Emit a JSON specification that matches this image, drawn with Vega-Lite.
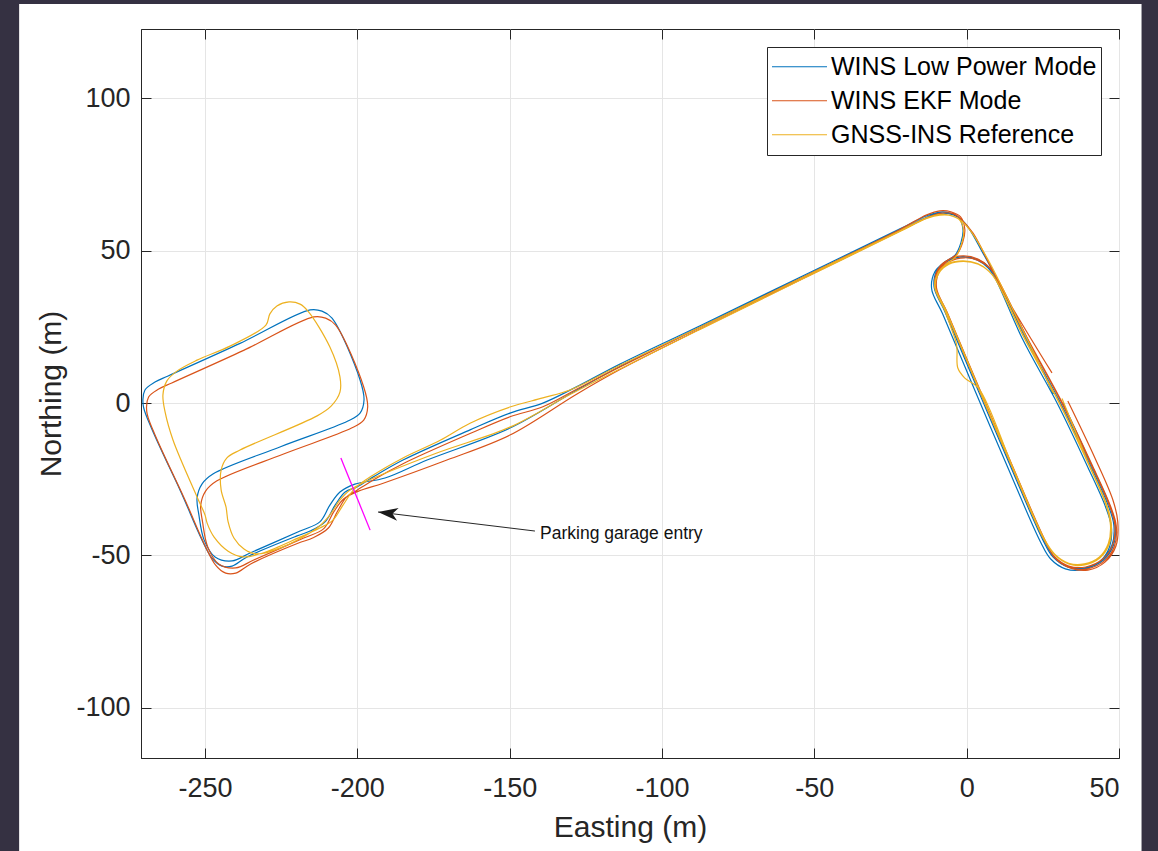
{
"$schema": "https://vega.github.io/schema/vega-lite/v6.json",
"width": 978, "height": 729,
"autosize": {"type": "none"},
"padding": {"left": 141, "top": 29, "right": 39, "bottom": 93},
"background": "white",
"config": {"view": {"stroke": "#262626", "strokeWidth": 1}, "font": "Liberation Sans"},
"datasets": {
"lp": [
{"i":1,"x":31.6,"y":0.0},{"i":2,"x":41.0,"y":-20.3},{"i":3,"x":46.9,"y":-33.5},{"i":4,"x":48.8,"y":-40.0},{"i":5,"x":48.2,"y":-46.6},{"i":6,"x":44.9,"y":-51.5},{"i":7,"x":39.3,"y":-54.1},{"i":8,"x":33.7,"y":-53.8},{"i":9,"x":28.8,"y":-50.5},{"i":10,"x":25.5,"y":-44.9},
{"i":11,"x":14.7,"y":-20.3},{"i":12,"x":3.9,"y":5.0},{"i":13,"x":-6.6,"y":29.9},{"i":14,"x":-10.2,"y":38.1},{"i":15,"x":-9.2,"y":43.7},{"i":16,"x":-6.0,"y":46.7},{"i":17,"x":-1.0,"y":48.0},{"i":18,"x":3.9,"y":47.0},{"i":19,"x":7.5,"y":44.4},{"i":20,"x":9.8,"y":41.1},
{"i":21,"x":19.1,"y":21.7},{"i":22,"x":30.6,"y":0.4},{"i":23,"x":40.5,"y":-20.3},{"i":24,"x":46.4,"y":-33.5},{"i":25,"x":48.3,"y":-40.0},{"i":26,"x":47.7,"y":-46.6},{"i":27,"x":44.4,"y":-51.5},{"i":28,"x":38.8,"y":-54.1},{"i":29,"x":33.2,"y":-53.8},{"i":30,"x":28.3,"y":-50.5},
{"i":31,"x":25.0,"y":-44.9},{"i":32,"x":14.2,"y":-20.3},{"i":33,"x":3.4,"y":5.0},{"i":34,"x":-7.1,"y":29.9},{"i":35,"x":-10.7,"y":38.1},{"i":36,"x":-9.7,"y":43.7},{"i":37,"x":-6.5,"y":46.7},{"i":38,"x":-1.5,"y":48.0},{"i":39,"x":3.4,"y":47.0},{"i":40,"x":7.0,"y":44.4},
{"i":41,"x":9.3,"y":41.1},{"i":42,"x":18.3,"y":21.1},{"i":43,"x":29.8,"y":-0.2},{"i":44,"x":39.7,"y":-20.9},{"i":45,"x":45.6,"y":-34.1},{"i":46,"x":47.5,"y":-40.6},{"i":47,"x":46.9,"y":-47.2},{"i":48,"x":43.6,"y":-52.1},{"i":49,"x":38.0,"y":-54.7},{"i":50,"x":32.4,"y":-54.4},
{"i":51,"x":27.5,"y":-51.1},{"i":52,"x":24.2,"y":-45.5},{"i":53,"x":13.4,"y":-20.9},{"i":54,"x":2.6,"y":4.4},{"i":55,"x":-7.9,"y":29.3},{"i":56,"x":-11.5,"y":37.5},{"i":57,"x":-10.4,"y":43.2},{"i":58,"x":-7.2,"y":46.3},{"i":59,"x":-3.8,"y":48.6},{"i":60,"x":-1.9,"y":52.6},
{"i":61,"x":-1.2,"y":56.8},{"i":62,"x":-2.5,"y":60.8},{"i":63,"x":-5.5,"y":62.4},{"i":64,"x":-8.8,"y":62.7},{"i":65,"x":-13.1,"y":61.5},{"i":66,"x":-21.9,"y":57.2},{"i":67,"x":-54.7,"y":41.3},{"i":68,"x":-87.5,"y":25.4},{"i":69,"x":-113.8,"y":12.8},{"i":70,"x":-127.9,"y":5.4},
{"i":71,"x":-139.1,"y":0.0},{"i":72,"x":-149.9,"y":-3.3},{"i":73,"x":-163.0,"y":-8.8},{"i":74,"x":-185.0,"y":-18.7},{"i":75,"x":-194.9,"y":-24.3},{"i":76,"x":-200.1,"y":-27.5},{"i":77,"x":-204.0,"y":-29.2},{"i":78,"x":-207.3,"y":-33.5},{"i":79,"x":-210.6,"y":-39.0},{"i":80,"x":-215.5,"y":-42.0},
{"i":81,"x":-219.8,"y":-43.6},{"i":82,"x":-236.2,"y":-50.5},{"i":83,"x":-241.1,"y":-53.5},{"i":84,"x":-244.4,"y":-53.5},{"i":85,"x":-247.7,"y":-50.9},{"i":86,"x":-258.2,"y":-28.5},{"i":87,"x":-268.0,"y":-7.2},{"i":88,"x":-270.3,"y":-0.6},{"i":89,"x":-269.7,"y":4.3},{"i":90,"x":-266.4,"y":6.9},
{"i":91,"x":-262.1,"y":8.9},{"i":92,"x":-238.5,"y":19.6},{"i":93,"x":-215.5,"y":30.6},{"i":94,"x":-211.6,"y":30.2},{"i":95,"x":-208.3,"y":27.9},{"i":96,"x":-199.1,"y":7.6},{"i":97,"x":-197.8,"y":1.0},{"i":98,"x":-199.1,"y":-3.3},{"i":99,"x":-203.1,"y":-5.9},{"i":100,"x":-225.4,"y":-14.4},
{"i":101,"x":-247.4,"y":-23.3},{"i":102,"x":-251.0,"y":-26.6},{"i":103,"x":-252.6,"y":-31.2},{"i":104,"x":-252.0,"y":-36.7},{"i":105,"x":-250.3,"y":-44.9},{"i":106,"x":-246.7,"y":-50.5},{"i":107,"x":-241.1,"y":-51.8},{"i":108,"x":-235.2,"y":-49.2},{"i":109,"x":-218.8,"y":-42.0},{"i":110,"x":-212.3,"y":-39.0},
{"i":111,"x":-209.0,"y":-33.5},{"i":112,"x":-205.7,"y":-29.2},{"i":113,"x":-200.8,"y":-26.6},{"i":114,"x":-190.9,"y":-24.6},{"i":115,"x":-177.1,"y":-18.7},{"i":116,"x":-149.9,"y":-8.2},{"i":117,"x":-127.9,"y":4.3},{"i":118,"x":-113.8,"y":12.0},{"i":119,"x":-87.5,"y":24.9},{"i":120,"x":-54.7,"y":40.8},
{"i":121,"x":-21.9,"y":56.7},{"i":122,"x":-13.1,"y":61.0},{"i":123,"x":-8.8,"y":62.3},{"i":124,"x":-4.3,"y":61.8},{"i":125,"x":-1.5,"y":60.0},{"i":126,"x":1.1,"y":56.8},{"i":127,"x":5.3,"y":49.3},{"i":128,"x":9.3,"y":42.1},{"i":129,"x":19.6,"y":21.7},{"i":130,"x":28.5,"y":3.0}
],
"ekf": [
{"i":1,"x":33.2,"y":0.7},{"i":2,"x":42.1,"y":-18.0},{"i":3,"x":48.0,"y":-31.8},{"i":4,"x":49.6,"y":-39.0},{"i":5,"x":49.0,"y":-46.9},{"i":6,"x":45.4,"y":-52.2},{"i":7,"x":39.8,"y":-54.8},{"i":8,"x":33.9,"y":-54.1},{"i":9,"x":29.0,"y":-50.9},{"i":10,"x":25.8,"y":-45.2},
{"i":11,"x":15.0,"y":-20.6},{"i":12,"x":4.2,"y":4.7},{"i":13,"x":-6.3,"y":29.6},{"i":14,"x":-9.9,"y":37.8},{"i":15,"x":-8.9,"y":43.4},{"i":16,"x":-5.7,"y":46.4},{"i":17,"x":-0.7,"y":47.7},{"i":18,"x":4.2,"y":46.7},{"i":19,"x":7.8,"y":44.1},{"i":20,"x":10.1,"y":40.8},
{"i":21,"x":19.9,"y":21.4},{"i":22,"x":31.4,"y":0.1},{"i":23,"x":41.3,"y":-20.6},{"i":24,"x":47.2,"y":-33.8},{"i":25,"x":49.1,"y":-40.3},{"i":26,"x":48.5,"y":-46.9},{"i":27,"x":45.2,"y":-51.8},{"i":28,"x":39.6,"y":-54.4},{"i":29,"x":34.0,"y":-54.1},{"i":30,"x":29.1,"y":-50.8},
{"i":31,"x":25.3,"y":-44.6},{"i":32,"x":14.5,"y":-20.0},{"i":33,"x":3.7,"y":5.3},{"i":34,"x":-6.8,"y":30.2},{"i":35,"x":-10.4,"y":38.4},{"i":36,"x":-9.4,"y":44.0},{"i":37,"x":-6.2,"y":47.0},{"i":38,"x":-1.2,"y":48.3},{"i":39,"x":3.7,"y":47.3},{"i":40,"x":7.3,"y":44.7},
{"i":41,"x":9.6,"y":41.4},{"i":42,"x":19.4,"y":22.0},{"i":43,"x":30.9,"y":0.7},{"i":44,"x":40.8,"y":-20.0},{"i":45,"x":46.7,"y":-33.2},{"i":46,"x":48.6,"y":-39.7},{"i":47,"x":48.0,"y":-46.3},{"i":48,"x":44.7,"y":-51.2},{"i":49,"x":39.1,"y":-53.8},{"i":50,"x":33.5,"y":-53.5},
{"i":51,"x":28.6,"y":-50.2},{"i":52,"x":25.5,"y":-44.9},{"i":53,"x":14.7,"y":-20.3},{"i":54,"x":3.9,"y":5.0},{"i":55,"x":-6.6,"y":29.9},{"i":56,"x":-10.2,"y":38.1},{"i":57,"x":-9.2,"y":43.7},{"i":58,"x":-6.2,"y":46.8},{"i":59,"x":-3.2,"y":48.9},{"i":60,"x":-1.3,"y":52.8},
{"i":61,"x":-0.6,"y":57.0},{"i":62,"x":-2.0,"y":61.1},{"i":63,"x":-5.2,"y":62.8},{"i":64,"x":-8.8,"y":63.1},{"i":65,"x":-13.1,"y":61.8},{"i":66,"x":-21.9,"y":57.0},{"i":67,"x":-54.7,"y":40.9},{"i":68,"x":-87.5,"y":24.9},{"i":69,"x":-113.8,"y":11.9},{"i":70,"x":-127.9,"y":4.6},
{"i":71,"x":-139.1,"y":-1.2},{"i":72,"x":-149.9,"y":-4.5},{"i":73,"x":-163.0,"y":-10.0},{"i":74,"x":-185.0,"y":-19.9},{"i":75,"x":-194.9,"y":-25.3},{"i":76,"x":-200.1,"y":-28.6},{"i":77,"x":-203.5,"y":-30.8},{"i":78,"x":-206.5,"y":-35.5},{"i":79,"x":-209.5,"y":-41.0},{"i":80,"x":-214.5,"y":-44.2},
{"i":81,"x":-219.5,"y":-46.0},{"i":82,"x":-235.0,"y":-52.8},{"i":83,"x":-239.9,"y":-55.8},{"i":84,"x":-243.2,"y":-55.8},{"i":85,"x":-246.5,"y":-53.2},{"i":86,"x":-257.0,"y":-30.8},{"i":87,"x":-266.8,"y":-9.5},{"i":88,"x":-269.1,"y":-2.9},{"i":89,"x":-268.5,"y":2.0},{"i":90,"x":-265.2,"y":4.6},
{"i":91,"x":-260.9,"y":6.6},{"i":92,"x":-237.3,"y":17.3},{"i":93,"x":-214.3,"y":28.3},{"i":94,"x":-210.4,"y":27.9},{"i":95,"x":-207.1,"y":25.6},{"i":96,"x":-197.9,"y":5.3},{"i":97,"x":-196.6,"y":-1.3},{"i":98,"x":-197.9,"y":-5.6},{"i":99,"x":-201.9,"y":-8.2},{"i":100,"x":-224.2,"y":-16.7},
{"i":101,"x":-246.2,"y":-25.6},{"i":102,"x":-249.8,"y":-28.9},{"i":103,"x":-251.4,"y":-33.5},{"i":104,"x":-250.8,"y":-39.0},{"i":105,"x":-249.1,"y":-47.2},{"i":106,"x":-245.5,"y":-52.8},{"i":107,"x":-239.9,"y":-54.1},{"i":108,"x":-234.0,"y":-51.5},{"i":109,"x":-217.6,"y":-44.3},{"i":110,"x":-211.1,"y":-41.3},
{"i":111,"x":-207.8,"y":-35.8},{"i":112,"x":-204.5,"y":-31.5},{"i":113,"x":-199.6,"y":-28.9},{"i":114,"x":-191.5,"y":-26.3},{"i":115,"x":-170.6,"y":-18.7},{"i":116,"x":-149.9,"y":-10.5},{"i":117,"x":-127.9,"y":3.0},{"i":118,"x":-113.8,"y":11.0},{"i":119,"x":-87.5,"y":24.3},{"i":120,"x":-54.7,"y":40.4},
{"i":121,"x":-21.9,"y":56.5},{"i":122,"x":-13.1,"y":60.8},{"i":123,"x":-8.8,"y":62.3},{"i":124,"x":-4.5,"y":62.2},{"i":125,"x":-1.8,"y":60.3},{"i":126,"x":2.1,"y":55.8},{"i":127,"x":7.6,"y":45.3},{"i":128,"x":12.6,"y":35.5},{"i":129,"x":28.0,"y":9.9}
],
"ref": [
{"i":1,"x":31.3,"y":1.5},{"i":2,"x":40.2,"y":-20.3},{"i":3,"x":45.8,"y":-33.3},{"i":4,"x":47.3,"y":-40.0},{"i":5,"x":46.6,"y":-46.0},{"i":6,"x":43.6,"y":-50.5},{"i":7,"x":38.6,"y":-52.8},{"i":8,"x":33.5,"y":-52.6},{"i":9,"x":28.9,"y":-49.6},{"i":10,"x":25.4,"y":-44.5},
{"i":11,"x":14.6,"y":-19.9},{"i":12,"x":3.8,"y":5.4},{"i":13,"x":-6.7,"y":30.3},{"i":14,"x":-10.3,"y":38.3},{"i":15,"x":-9.0,"y":42.8},{"i":16,"x":-5.8,"y":45.6},{"i":17,"x":-1.0,"y":46.5},{"i":18,"x":3.8,"y":45.6},{"i":19,"x":7.3,"y":43.3},{"i":20,"x":9.6,"y":40.5},
{"i":21,"x":18.9,"y":21.5},{"i":22,"x":30.4,"y":0.2},{"i":23,"x":40.3,"y":-20.5},{"i":24,"x":46.0,"y":-33.5},{"i":25,"x":47.5,"y":-40.2},{"i":26,"x":46.8,"y":-46.3},{"i":27,"x":43.8,"y":-50.8},{"i":28,"x":38.8,"y":-53.1},{"i":29,"x":33.7,"y":-52.9},{"i":30,"x":29.1,"y":-49.9},
{"i":31,"x":25.6,"y":-44.8},{"i":32,"x":14.8,"y":-20.2},{"i":33,"x":3.9,"y":4.9},{"i":34,"x":-0.6,"y":8.2},{"i":35,"x":-2.9,"y":11.5},{"i":36,"x":-3.3,"y":19.1},{"i":37,"x":-5.4,"y":25.5},{"i":38,"x":-7.0,"y":30.0},{"i":39,"x":-10.5,"y":38.2},{"i":40,"x":-9.2,"y":42.9},
{"i":41,"x":-6.0,"y":45.8},{"i":42,"x":-1.2,"y":46.7},{"i":43,"x":3.6,"y":45.8},{"i":44,"x":7.1,"y":43.5},{"i":45,"x":9.4,"y":40.7},{"i":46,"x":18.7,"y":21.7},{"i":47,"x":30.2,"y":0.4},{"i":48,"x":40.1,"y":-20.3},{"i":49,"x":45.7,"y":-33.3},{"i":50,"x":47.2,"y":-40.0},
{"i":51,"x":46.5,"y":-46.1},{"i":52,"x":43.5,"y":-50.6},{"i":53,"x":38.5,"y":-52.9},{"i":54,"x":33.4,"y":-52.7},{"i":55,"x":28.8,"y":-49.7},{"i":56,"x":25.3,"y":-44.6},{"i":57,"x":14.5,"y":-20.0},{"i":58,"x":3.7,"y":5.3},{"i":59,"x":-6.8,"y":30.2},{"i":60,"x":-10.4,"y":38.3},
{"i":61,"x":-9.3,"y":43.0},{"i":62,"x":-6.4,"y":45.9},{"i":63,"x":-3.6,"y":48.0},{"i":64,"x":-1.7,"y":52.2},{"i":65,"x":-1.0,"y":56.5},{"i":66,"x":-2.4,"y":60.2},{"i":67,"x":-5.5,"y":61.6},{"i":68,"x":-8.8,"y":61.9},{"i":69,"x":-13.1,"y":60.8},{"i":70,"x":-21.9,"y":56.6},
{"i":71,"x":-54.7,"y":40.8},{"i":72,"x":-87.5,"y":24.9},{"i":73,"x":-113.8,"y":12.4},{"i":74,"x":-130.2,"y":4.3},{"i":75,"x":-139.1,"y":1.7},{"i":76,"x":-149.9,"y":-1.3},{"i":77,"x":-163.0,"y":-6.6},{"i":78,"x":-172.8,"y":-12.2},{"i":79,"x":-185.0,"y":-18.0},{"i":80,"x":-194.9,"y":-23.7},
{"i":81,"x":-200.8,"y":-28.0},{"i":82,"x":-204.7,"y":-33.5},{"i":83,"x":-208.0,"y":-38.4},{"i":84,"x":-212.3,"y":-41.0},{"i":85,"x":-218.8,"y":-44.0},{"i":86,"x":-231.0,"y":-49.2},{"i":87,"x":-237.5,"y":-50.5},{"i":88,"x":-242.4,"y":-48.6},{"i":89,"x":-247.0,"y":-44.0},{"i":90,"x":-249.3,"y":-39.4},
{"i":91,"x":-250.0,"y":-36.7},{"i":92,"x":-252.6,"y":-30.8},{"i":93,"x":-260.5,"y":-12.1},{"i":94,"x":-263.1,"y":-2.9},{"i":95,"x":-263.8,"y":2.7},{"i":96,"x":-262.5,"y":7.3},{"i":97,"x":-259.2,"y":10.5},{"i":98,"x":-252.6,"y":14.1},{"i":99,"x":-241.8,"y":18.7},{"i":100,"x":-230.0,"y":25.6},
{"i":101,"x":-228.7,"y":29.3},{"i":102,"x":-226.4,"y":31.9},{"i":103,"x":-222.4,"y":33.2},{"i":104,"x":-218.8,"y":32.5},{"i":105,"x":-216.2,"y":30.2},{"i":106,"x":-209.0,"y":18.4},{"i":107,"x":-205.7,"y":8.6},{"i":108,"x":-205.7,"y":3.6},{"i":109,"x":-208.6,"y":-1.0},{"i":110,"x":-213.2,"y":-4.2},
{"i":111,"x":-238.5,"y":-15.4},{"i":112,"x":-242.8,"y":-18.0},{"i":113,"x":-244.7,"y":-22.0},{"i":114,"x":-244.7,"y":-28.5},{"i":115,"x":-243.1,"y":-34.1},{"i":116,"x":-242.4,"y":-39.0},{"i":117,"x":-240.5,"y":-44.3},{"i":118,"x":-237.2,"y":-47.9},{"i":119,"x":-233.3,"y":-49.5},{"i":120,"x":-225.4,"y":-47.6},
{"i":121,"x":-213.2,"y":-41.0},{"i":122,"x":-209.0,"y":-36.7},{"i":123,"x":-205.7,"y":-31.8},{"i":124,"x":-202.4,"y":-28.5},{"i":125,"x":-197.5,"y":-25.9},{"i":126,"x":-173.9,"y":-16.4},{"i":127,"x":-149.9,"y":-7.9},{"i":128,"x":-130.2,"y":2.8},{"i":129,"x":-113.8,"y":11.2},{"i":130,"x":-87.5,"y":24.2},
{"i":131,"x":-54.7,"y":40.3},{"i":132,"x":-21.9,"y":56.3},{"i":133,"x":-13.1,"y":60.6},{"i":134,"x":-8.8,"y":61.7},{"i":135,"x":-4.5,"y":61.4},{"i":136,"x":-1.5,"y":59.6},{"i":137,"x":1.8,"y":55.8},{"i":138,"x":7.6,"y":46.0},{"i":139,"x":10.5,"y":40.3},{"i":140,"x":19.5,"y":21.8},
{"i":141,"x":28.3,"y":3.5}
],
"entry": [{"x":-205.4,"y":-18.0,"x2":-195.8,"y2":-41.7}],
"arrow": [{"x":-141.7,"y":-42.0,"x2":-193.2,"y2":-35.75}],
"label": [{"x":-140.0,"y":-44.6,"t":"Parking garage entry"}]
},
"layer": [
{"data": {"name": "lp"},
 "mark": {"type": "line", "interpolate": "catmull-rom", "strokeWidth": 1.2},
 "encoding": {
  "x": {"field": "x", "type": "quantitative", "scale": {"domain": [-271, 50], "nice": false, "zero": false},
   "axis": {"orient": "bottom", "values": [-250, -200, -150, -100, -50, 0, 50], "title": "Easting (m)", "labelExpr": "'' + datum.value",
    "grid": true, "gridColor": "#e5e5e5", "gridWidth": 1, "tickSize": -10, "tickColor": "#262626", "tickWidth": 1,
    "domainColor": "#262626", "labelFont": "Liberation Sans", "labelFontSize": 27, "labelColor": "#262626", "labelPadding": 27,
    "titleFont": "Liberation Sans", "titleFontSize": 30, "titleFontWeight": "normal", "titleColor": "#262626", "titlePadding": 11}},
  "y": {"field": "y", "type": "quantitative", "scale": {"domain": [-116.5, 122.8], "nice": false, "zero": false},
   "axis": {"orient": "left", "values": [-100, -50, 0, 50, 100], "title": "Northing (m)", "labelExpr": "'' + datum.value",
    "grid": true, "gridColor": "#e5e5e5", "gridWidth": 1, "tickSize": -10, "tickColor": "#262626", "tickWidth": 1,
    "domainColor": "#262626", "labelFont": "Liberation Sans", "labelFontSize": 27, "labelColor": "#262626", "labelPadding": 21,
    "titleFont": "Liberation Sans", "titleFontSize": 30, "titleFontWeight": "normal", "titleColor": "#262626", "titlePadding": 9}},
  "color": {"datum": "WINS Low Power Mode", "type": "nominal",
   "scale": {"domain": ["WINS Low Power Mode", "WINS EKF Mode", "GNSS-INS Reference"], "range": ["#0072BD", "#D95319", "#EDB120"]},
   "legend": {"orient": "none", "legendX": 626, "legendY": 18, "title": null, "symbolType": "stroke", "symbolSize": 3025, "symbolStrokeWidth": 1.2,
    "labelFont": "Liberation Sans", "labelFontSize": 25, "labelColor": "#000000", "labelLimit": 500, "labelOffset": 3,
    "strokeColor": "#262626", "fillColor": "white", "padding": 4, "rowPadding": 2, "clipHeight": 31.5}},
  "order": {"field": "i", "type": "quantitative"}
 }},
{"data": {"name": "ekf"},
 "mark": {"type": "line", "interpolate": "catmull-rom", "strokeWidth": 1.2},
 "encoding": {
  "x": {"field": "x", "type": "quantitative", "scale": {"domain": [-271, 50], "nice": false, "zero": false}, "axis": null},
  "y": {"field": "y", "type": "quantitative", "scale": {"domain": [-116.5, 122.8], "nice": false, "zero": false}, "axis": null},
  "color": {"datum": "WINS EKF Mode", "type": "nominal",
   "scale": {"domain": ["WINS Low Power Mode", "WINS EKF Mode", "GNSS-INS Reference"], "range": ["#0072BD", "#D95319", "#EDB120"]},
   "legend": {"orient": "none", "legendX": 626, "legendY": 18, "title": null, "symbolType": "stroke", "symbolSize": 3025, "symbolStrokeWidth": 1.2,
    "labelFont": "Liberation Sans", "labelFontSize": 25, "labelColor": "#000000", "labelLimit": 500, "labelOffset": 3,
    "strokeColor": "#262626", "fillColor": "white", "padding": 4, "rowPadding": 2, "clipHeight": 31.5}},
  "order": {"field": "i", "type": "quantitative"}
 }},
{"data": {"name": "ref"},
 "mark": {"type": "line", "interpolate": "catmull-rom", "strokeWidth": 1.2},
 "encoding": {
  "x": {"field": "x", "type": "quantitative", "scale": {"domain": [-271, 50], "nice": false, "zero": false}, "axis": null},
  "y": {"field": "y", "type": "quantitative", "scale": {"domain": [-116.5, 122.8], "nice": false, "zero": false}, "axis": null},
  "color": {"datum": "GNSS-INS Reference", "type": "nominal",
   "scale": {"domain": ["WINS Low Power Mode", "WINS EKF Mode", "GNSS-INS Reference"], "range": ["#0072BD", "#D95319", "#EDB120"]},
   "legend": {"orient": "none", "legendX": 626, "legendY": 18, "title": null, "symbolType": "stroke", "symbolSize": 3025, "symbolStrokeWidth": 1.2,
    "labelFont": "Liberation Sans", "labelFontSize": 25, "labelColor": "#000000", "labelLimit": 500, "labelOffset": 3,
    "strokeColor": "#262626", "fillColor": "white", "padding": 4, "rowPadding": 2, "clipHeight": 31.5}},
  "order": {"field": "i", "type": "quantitative"}
 }},
{"data": {"name": "entry"},
 "mark": {"type": "rule", "color": "#FF00FF", "strokeWidth": 1.3},
 "encoding": {
  "x": {"field": "x", "type": "quantitative", "scale": {"domain": [-271, 50], "nice": false, "zero": false},
   "axis": {"orient": "top", "values": [-250, -200, -150, -100, -50, 0, 50], "labels": false, "grid": false, "domain": false, "title": null, "tickSize": -10, "tickColor": "#262626", "tickWidth": 1}},
  "y": {"field": "y", "type": "quantitative", "scale": {"domain": [-116.5, 122.8], "nice": false, "zero": false},
   "axis": {"orient": "right", "values": [-100, -50, 0, 50, 100], "labels": false, "grid": false, "domain": false, "title": null, "tickSize": -10, "tickColor": "#262626", "tickWidth": 1}},
  "x2": {"field": "x2"}, "y2": {"field": "y2"}
 }},
{"data": {"name": "arrow"},
 "mark": {"type": "rule", "color": "#262626", "strokeWidth": 1},
 "encoding": {
  "x": {"field": "x", "type": "quantitative", "scale": {"domain": [-271, 50], "nice": false, "zero": false}, "axis": null},
  "y": {"field": "y", "type": "quantitative", "scale": {"domain": [-116.5, 122.8], "nice": false, "zero": false}, "axis": null},
  "x2": {"field": "x2"}, "y2": {"field": "y2"}
 }},
{"data": {"name": "arrow"},
 "mark": {"type": "point", "shape": "M0,0L-2,-0.65L-1.45,0L-2,0.65Z", "size": 400, "angle": 186.9, "filled": true, "color": "#1a1a1a", "opacity": 1, "strokeWidth": 0},
 "encoding": {
  "x": {"field": "x2", "type": "quantitative", "scale": {"domain": [-271, 50], "nice": false, "zero": false}, "axis": null},
  "y": {"field": "y2", "type": "quantitative", "scale": {"domain": [-116.5, 122.8], "nice": false, "zero": false}, "axis": null}
 }},
{"data": {"name": "label"},
 "mark": {"type": "text", "align": "left", "baseline": "alphabetic", "font": "Liberation Sans", "fontSize": 17.5, "color": "#111111"},
 "encoding": {
  "x": {"field": "x", "type": "quantitative", "scale": {"domain": [-271, 50], "nice": false, "zero": false}, "axis": null},
  "y": {"field": "y", "type": "quantitative", "scale": {"domain": [-116.5, 122.8], "nice": false, "zero": false}, "axis": null},
  "text": {"field": "t"}
 }},
{"data": {"values": [{}]},
 "mark": {"type": "rect", "color": "#353142"},
 "encoding": {
  "x": {"datum": -360, "type": "quantitative", "scale": {"domain": [-271, 50], "nice": false, "zero": false}, "axis": null},
  "x2": {"datum": -311.0},
  "y": {"datum": -220, "type": "quantitative", "scale": {"domain": [-116.5, 122.8], "nice": false, "zero": false}, "axis": null},
  "y2": {"datum": 150}
 }},
{"data": {"values": [{}]},
 "mark": {"type": "rect", "color": "#353142"},
 "encoding": {
  "x": {"datum": 57.4, "type": "quantitative", "scale": {"domain": [-271, 50], "nice": false, "zero": false}, "axis": null},
  "x2": {"datum": 80},
  "y": {"datum": -220, "type": "quantitative", "scale": {"domain": [-116.5, 122.8], "nice": false, "zero": false}, "axis": null},
  "y2": {"datum": 150}
 }},
{"data": {"values": [{}]},
 "mark": {"type": "rect", "color": "#353142"},
 "encoding": {
  "x": {"datum": -360, "type": "quantitative", "scale": {"domain": [-271, 50], "nice": false, "zero": false}, "axis": null},
  "x2": {"datum": 80},
  "y": {"datum": 131.0, "type": "quantitative", "scale": {"domain": [-116.5, 122.8], "nice": false, "zero": false}, "axis": null},
  "y2": {"datum": 150}
 }}
],
"resolve": {"axis": {"x": "independent", "y": "independent"}}
}
